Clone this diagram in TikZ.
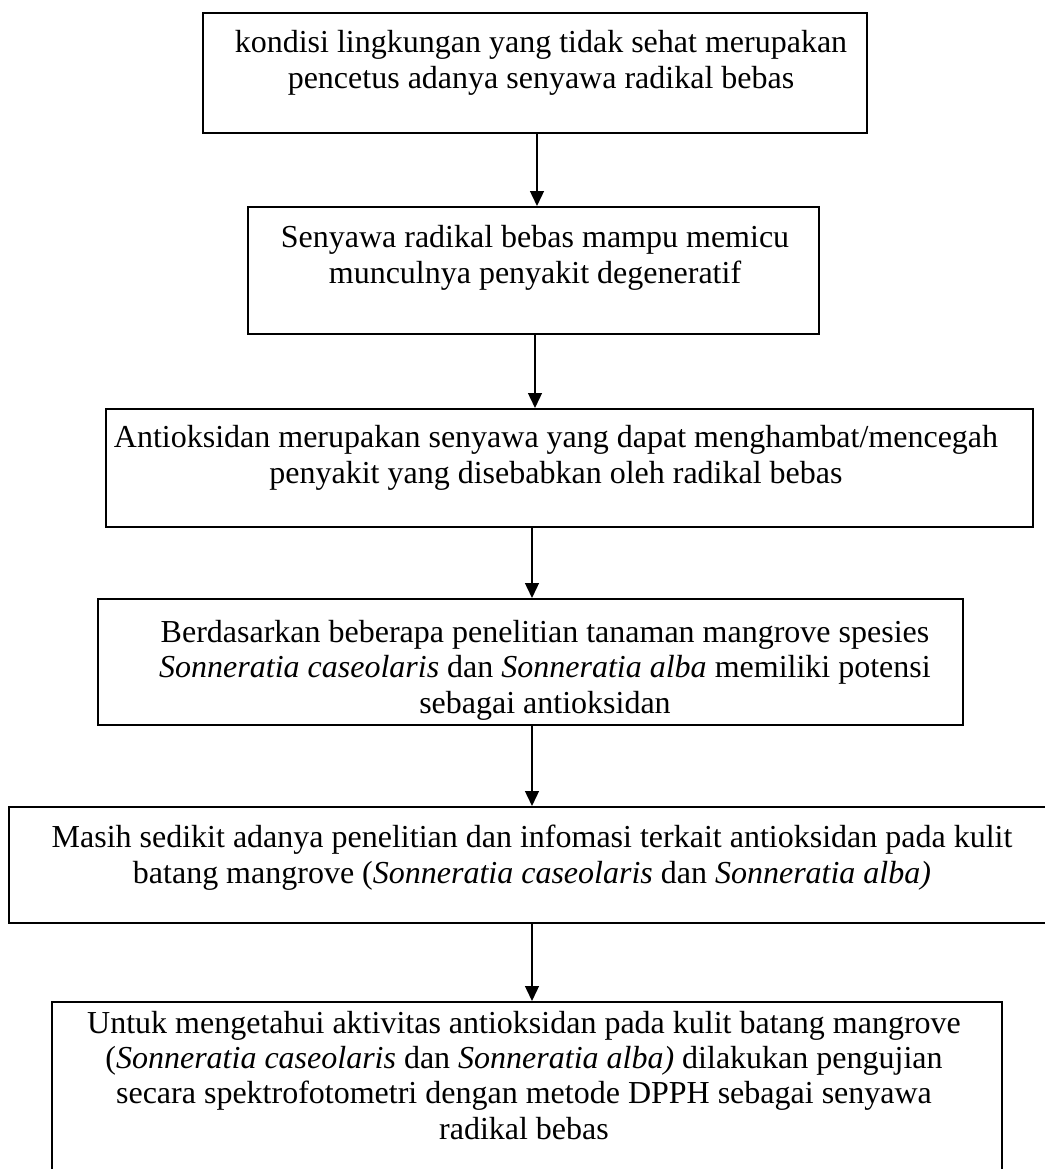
\documentclass[tikz,border=0pt]{standalone}
\usepackage{fontspec}
\setmainfont{Liberation Serif}
\usetikzlibrary{fit,arrows.meta}
\begin{document}
\begin{tikzpicture}[x=0.375pt,y=-0.375pt,
  box/.style={draw,line width=0.75pt,inner sep=0pt},
  txt/.style={inner sep=0pt,align=center,font=\fontsize{12pt}{13.2pt}\selectfont,anchor=base},
  arr/.style={line width=0.6pt,-{Triangle[length=5.6pt,width=5.2pt]}}]
\useasboundingbox (0,0) rectangle (1045,1169);
\clip (0,0) rectangle (1045,1169);
% boxes
\node[box,fit={(203,13)(867,133)}] (b1) {};
\node[box,fit={(248,207)(819,334)}] (b2) {};
\node[box,fit={(106,409)(1033,527)}] (b3) {};
\node[box,fit={(98,599)(963,725)}] (b4) {};
\node[box,fit={(9,807)(1070,923)}] (b5) {};
\node[box,fit={(52,1002)(1002,1190)}] (b6) {};
% texts (anchored at the baseline of the last line)
\node[txt] (t1) at (541,88) {kondisi lingkungan yang tidak sehat merupakan\\pencetus adanya senyawa radikal bebas};
\node[txt] (t2) at (535,283) {Senyawa radikal bebas mampu memicu\\munculnya penyakit degeneratif};
\node[txt] (t3) at (556,483) {Antioksidan merupakan senyawa yang dapat menghambat/mencegah\\penyakit yang disebabkan oleh radikal bebas};
\node[txt] (t4) at (545,713) {Berdasarkan beberapa penelitian tanaman mangrove spesies\\\textit{Sonneratia caseolaris} dan \textit{Sonneratia alba} memiliki potensi\\sebagai antioksidan};
\node[txt] (t5) at (532,883) {Masih sedikit adanya penelitian dan infomasi terkait antioksidan pada kulit\\batang mangrove (\textit{Sonneratia caseolaris} dan \textit{Sonneratia alba)}};
\node[txt] (t6) at (524,1139) {Untuk mengetahui aktivitas antioksidan pada kulit batang mangrove\\(\textit{Sonneratia caseolaris} dan \textit{Sonneratia alba)} dilakukan pengujian\\secara spektrofotometri dengan metode DPPH sebagai senyawa\\radikal bebas};
% arrows
\draw[arr] (b1.south -| 537,0) -- (b2.north -| 537,0);
\draw[arr] (b2.south -| 535,0) -- (b3.north -| 535,0);
\draw[arr] (b3.south -| 532,0) -- (b4.north -| 532,0);
\draw[arr] (b4.south -| 532,0) -- (b5.north -| 532,0);
\draw[arr] (b5.south -| 532,0) -- (b6.north -| 532,0);
\end{tikzpicture}
\end{document}
